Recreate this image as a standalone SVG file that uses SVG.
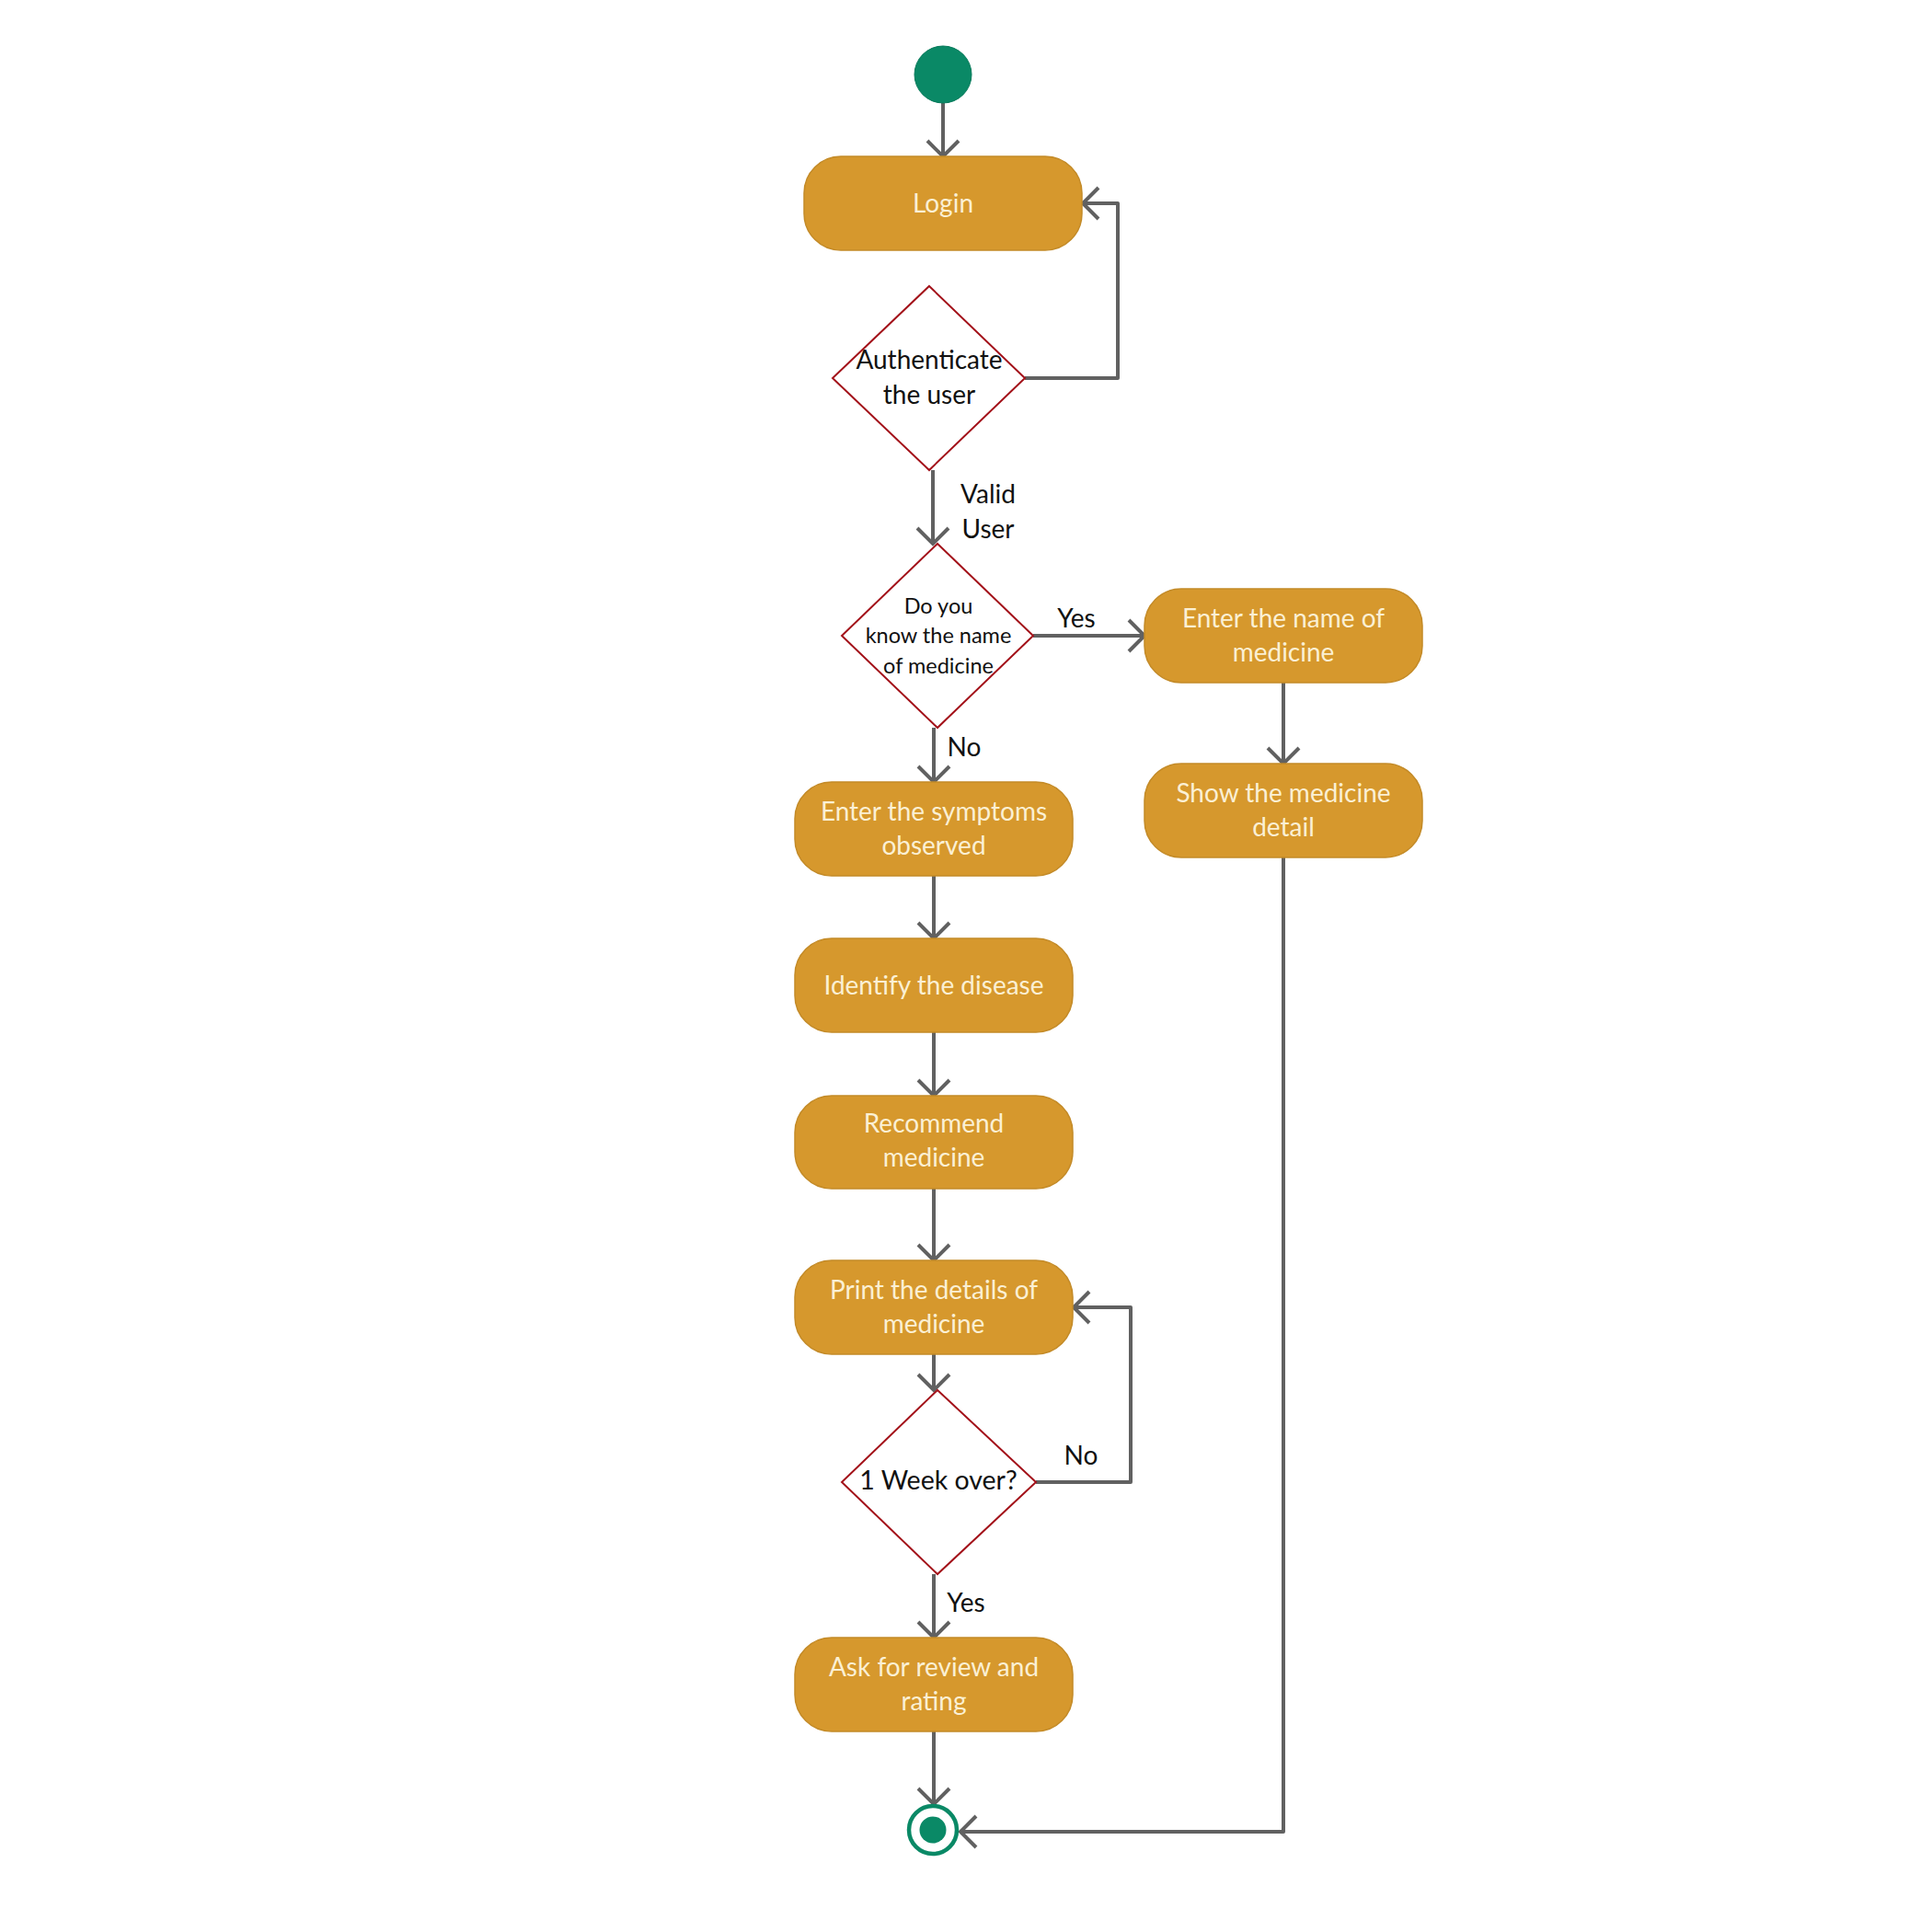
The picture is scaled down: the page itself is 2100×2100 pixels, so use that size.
<svg xmlns="http://www.w3.org/2000/svg" width="2100" height="2100" viewBox="0 0 2100 2100">
  <style>
    .act { fill: #d6982d; stroke: #c38a27; stroke-width: 1.5; }
    .act-text { font-family: Lato, "Open Sans", sans-serif; font-size: 28px; fill: #fbf0d4; text-anchor: middle; }
    .dec { fill: #ffffff; stroke: #a3121a; stroke-width: 2; }
    .dec-text { font-family: Lato, "Open Sans", sans-serif; font-size: 28px; fill: #111111; text-anchor: middle; }
    .dec-small { font-size: 23.5px; }
    .dec-week { font-size: 28.5px; }
    .lbl { font-family: Lato, "Open Sans", sans-serif; font-size: 28px; fill: #111111; text-anchor: middle; }
    .flow { fill: none; stroke: #616161; stroke-width: 4; stroke-linejoin: round; marker-end: url(#open-arrow); }
  </style>
  <defs>
    <marker id="open-arrow" markerUnits="userSpaceOnUse" viewBox="-22 -22 44 44" markerWidth="44" markerHeight="44" refX="0" refY="0" orient="auto">
      <path d="M-17,-17 L0,0 L-17,17" fill="none" stroke="#616161" stroke-width="4"/>
    </marker>
  </defs>

  <rect width="2100" height="2100" fill="#ffffff"/>

  <!-- connectors -->
  <g id="connectors">
    <path class="flow" d="M1025,112 V170"/>
    <path class="flow" d="M1114,411 H1215 V221 H1177"/>
    <path class="flow" d="M1014,511 V591"/>
    <path class="flow" d="M1123,691 H1244"/>
    <path class="flow" d="M1395,742 V830"/>
    <path class="flow" d="M1015,791 V850"/>
    <path class="flow" d="M1015,952 V1020"/>
    <path class="flow" d="M1015,1122 V1191"/>
    <path class="flow" d="M1015,1292 V1370"/>
    <path class="flow" d="M1015,1472 V1511"/>
    <path class="flow" d="M1126,1611 H1229 V1421 H1167"/>
    <path class="flow" d="M1015,1711 V1780"/>
    <path class="flow" d="M1015,1882 V1961"/>
    <path class="flow" d="M1395,932 V1991 H1044"/>
  </g>

  <!-- edge labels -->
  <g id="edge-labels">
    <text class="lbl" x="1074" y="547">Valid</text>
    <text class="lbl" x="1074" y="585">User</text>
    <text class="lbl" x="1170" y="682">Yes</text>
    <text class="lbl" x="1048" y="822">No</text>
    <text class="lbl" x="1175" y="1592">No</text>
    <text class="lbl" x="1050" y="1752">Yes</text>
  </g>

  <!-- start -->
  <g id="start">
    <circle cx="1025" cy="81" r="31" fill="#0a8966" stroke="#087a5b" stroke-width="1"/>
  </g>

  <g id="login">
    <rect class="act" x="874" y="170" width="302" height="102" rx="40"/>
    <text class="act-text" x="1025" y="231">Login</text>
  </g>

  <g id="authenticate">
    <polygon class="dec" points="1010,311 1114,411 1010,511 905,411"/>
    <text class="dec-text" x="1010" y="401">Authenticate</text>
    <text class="dec-text" x="1010" y="439">the user</text>
  </g>

  <g id="know-name">
    <polygon class="dec" points="1019,591 1123,691 1019,791 915,691"/>
    <text class="dec-text dec-small" x="1020" y="667">Do you</text>
    <text class="dec-text dec-small" x="1020" y="699">know the name</text>
    <text class="dec-text dec-small" x="1020" y="732">of medicine</text>
  </g>

  <g id="enter-name">
    <rect class="act" x="1244" y="640" width="302" height="102" rx="40"/>
    <text class="act-text" x="1395" y="682">Enter the name of</text>
    <text class="act-text" x="1395" y="719">medicine</text>
  </g>

  <g id="show-detail">
    <rect class="act" x="1244" y="830" width="302" height="102" rx="40"/>
    <text class="act-text" x="1395" y="872">Show the medicine</text>
    <text class="act-text" x="1395" y="909">detail</text>
  </g>

  <g id="enter-symptoms">
    <rect class="act" x="864" y="850" width="302" height="102" rx="40"/>
    <text class="act-text" x="1015" y="892">Enter the symptoms</text>
    <text class="act-text" x="1015" y="929">observed</text>
  </g>

  <g id="identify-disease">
    <rect class="act" x="864" y="1020" width="302" height="102" rx="40"/>
    <text class="act-text" x="1015" y="1081">Identify the disease</text>
  </g>

  <g id="recommend">
    <rect class="act" x="864" y="1191" width="302" height="101" rx="40"/>
    <text class="act-text" x="1015" y="1231">Recommend</text>
    <text class="act-text" x="1015" y="1268">medicine</text>
  </g>

  <g id="print-details">
    <rect class="act" x="864" y="1370" width="302" height="102" rx="40"/>
    <text class="act-text" x="1015" y="1412">Print the details of</text>
    <text class="act-text" x="1015" y="1449">medicine</text>
  </g>

  <g id="week-over">
    <polygon class="dec" points="1019,1511 1126,1611 1019,1711 915,1611"/>
    <text class="dec-text dec-week" x="1020" y="1619">1 Week over?</text>
  </g>

  <g id="review">
    <rect class="act" x="864" y="1780" width="302" height="102" rx="40"/>
    <text class="act-text" x="1015" y="1822">Ask for review and</text>
    <text class="act-text" x="1015" y="1859">rating</text>
  </g>

  <!-- end -->
  <g id="end">
    <circle cx="1014" cy="1989" r="26" fill="#ffffff" stroke="#0a8966" stroke-width="4.5"/>
    <circle cx="1014" cy="1989" r="14.5" fill="#0a8966"/>
  </g>
</svg>
